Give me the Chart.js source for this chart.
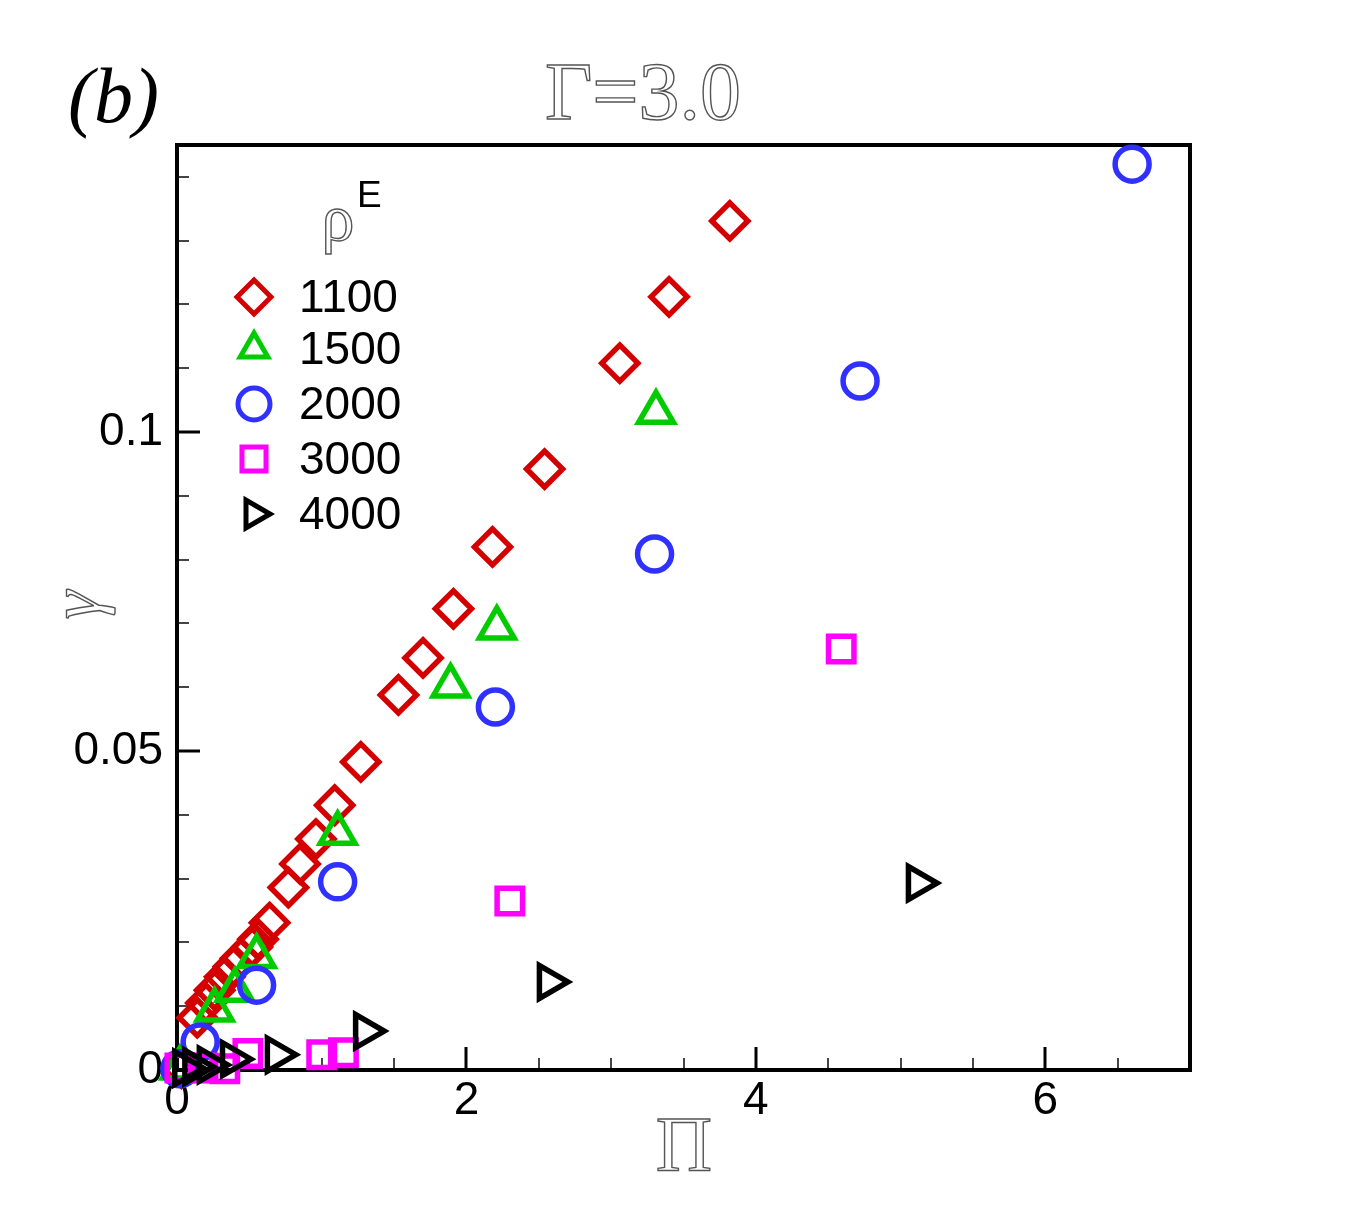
<!DOCTYPE html>
<html>
<head>
<meta charset="utf-8">
<script src="https://cdn.jsdelivr.net/npm/chart.js@4.4.1/dist/chart.umd.min.js"></script>
<style>
  html, body { margin: 0; padding: 0; background: #fff; }
  #wrap { width: 1355px; height: 1205px; }
</style>
</head>
<body>
<div id="wrap"><canvas id="gammaChart" width="1355" height="1205"></canvas></div>
<script>
// values, Pi on x and gamma on y
const seriesNames = ['1100', '1500', '2000', '3000', '4000'];

const pi1100 = [0.03, 0.14, 0.20, 0.26, 0.33, 0.39, 0.44, 0.52, 0.56, 0.64, 0.77, 0.85, 0.96, 1.09, 1.27, 1.53, 1.70, 1.91, 2.18, 2.54, 3.06, 3.40, 3.82];
const gam1100 = [0.0003, 0.0082, 0.0105, 0.0125, 0.0146, 0.0162, 0.0175, 0.0193, 0.0205, 0.0231, 0.0286, 0.0323, 0.0362, 0.0415, 0.0483, 0.0588, 0.0646, 0.0723, 0.0820, 0.0942, 0.1108, 0.1212, 0.1331];

const pi1500 = [0.02, 0.26, 0.40, 0.55, 1.11, 1.89, 2.21, 3.31];
const gam1500 = [0.0003, 0.0094, 0.0125, 0.0178, 0.0371, 0.0602, 0.0693, 0.1031];

const pi2000 = [0.02, 0.16, 0.55, 1.11, 2.20, 3.30, 4.72, 6.60];
const gam2000 = [0.0002, 0.0044, 0.0133, 0.0295, 0.0569, 0.0809, 0.1080, 0.1420];

const pi3000 = [0.02, 0.18, 0.33, 0.49, 1.00, 1.15, 2.30, 4.59];
const gam3000 = [0.0003, 0.0003, 0.0002, 0.0026, 0.0024, 0.0027, 0.0265, 0.0660];

const pi4000 = [0.05, 0.12, 0.22, 0.38, 0.69, 1.30, 2.57, 5.12];
const gam4000 = [0.0003, 0.0005, 0.0008, 0.0017, 0.0024, 0.0061, 0.0138, 0.0293];

const xTicksMajor = [0, 2, 4, 6];
const yTicksMajor = [0, 0.05, 0.1];
const yTickLabels = ['0', '0.05', '0.1'];

const colors = ['#d40000', '#00cc00', '#3030ff', '#ff00ff', '#000000'];
const shapes = ['rectRot', 'triangle', 'circle', 'rect', 'triangle'];
const rotations = [0, 0, 0, 0, 90];
const radii = [18, 20, 17, 18, 19];

const allX = [pi1100, pi1500, pi2000, pi3000, pi4000];
const allY = [gam1100, gam1500, gam2000, gam3000, gam4000];

const datasets = seriesNames.map((name, i) => ({
  label: name,
  data: allX[i].map((x, k) => ({ x: x, y: allY[i][k] })),
  pointStyle: shapes[i],
  rotation: rotations[i],
  pointRadius: radii[i],
  pointHoverRadius: radii[i],
  borderWidth: 5.5,
  pointBorderWidth: 5.5,
  pointBorderColor: colors[i],
  borderColor: colors[i],
  pointBackgroundColor: 'rgba(0,0,0,0)',
  showLine: false,
  clip: false,
  order: 5 - i
}));

function drawMarker(ctx, shape, rot, r, x, y, color) {
  ctx.save();
  ctx.strokeStyle = color;
  ctx.lineWidth = 5;
  ctx.translate(x, y);
  ctx.rotate(rot * Math.PI / 180);
  ctx.beginPath();
  if (shape === 'rectRot') {
    ctx.moveTo(0, -r); ctx.lineTo(r, 0); ctx.lineTo(0, r); ctx.lineTo(-r, 0); ctx.closePath();
  } else if (shape === 'triangle') {
    for (let k = 0; k < 3; k++) {
      const a = k * 2 * Math.PI / 3;
      const px = Math.sin(a) * r, py = -Math.cos(a) * r;
      if (k === 0) ctx.moveTo(px, py); else ctx.lineTo(px, py);
    }
    ctx.closePath();
  } else if (shape === 'circle') {
    ctx.arc(0, 0, r, 0, Math.PI * 2);
  } else {
    const s = Math.SQRT1_2 * r;
    ctx.rect(-s, -s, 2 * s, 2 * s);
  }
  ctx.stroke();
  ctx.restore();
}

const decorPlugin = {
  id: 'decor',
  beforeDatasetsDraw(chart) {
    const ctx = chart.ctx;
    const xs = chart.scales.x, ys = chart.scales.y;
    const a = chart.chartArea;
    ctx.save();
    // minor ticks
    ctx.strokeStyle = '#444';
    ctx.lineWidth = 2;
    for (let v = 0.01; v < 0.145; v += 0.01) {
      const py = Math.round(ys.getPixelForValue(v));
      ctx.beginPath(); ctx.moveTo(a.left, py); ctx.lineTo(a.left + 12, py); ctx.stroke();
    }
    for (let v = 0.5; v < 7; v += 0.5) {
      const px = Math.round(xs.getPixelForValue(v));
      ctx.beginPath(); ctx.moveTo(px, a.bottom); ctx.lineTo(px, a.bottom - 12); ctx.stroke();
    }
    // major ticks
    ctx.strokeStyle = '#000';
    ctx.lineWidth = 3;
    yTicksMajor.forEach(v => {
      const py = Math.round(ys.getPixelForValue(v));
      ctx.beginPath(); ctx.moveTo(a.left, py); ctx.lineTo(a.left + 23, py); ctx.stroke();
    });
    xTicksMajor.forEach(v => {
      const px = Math.round(xs.getPixelForValue(v));
      ctx.beginPath(); ctx.moveTo(px, a.bottom); ctx.lineTo(px, a.bottom - 23); ctx.stroke();
    });
    // frame
    ctx.lineWidth = 4;
    ctx.strokeRect(a.left, a.top, a.right - a.left, a.bottom - a.top);
    ctx.restore();
  },
  afterDraw(chart) {
    const ctx = chart.ctx;
    ctx.save();
    // panel letter
    ctx.fillStyle = '#000';
    ctx.font = 'italic 78px "Liberation Serif"';
    ctx.textAlign = 'left';
    ctx.textBaseline = 'alphabetic';
    ctx.fillText('(b)', 68, 122);

    // hollow title and axis titles
    ctx.strokeStyle = '#555';
    ctx.lineWidth = 1.4;
    ctx.textAlign = 'center';
    ctx.font = '82px "Liberation Serif"';
    ctx.strokeText('\u0393=3.0', 643, 119);
    ctx.font = '78px "Liberation Serif"';
    ctx.strokeText('\u03A0', 684, 1170);
    ctx.save();
    ctx.translate(100, 605);
    ctx.rotate(-Math.PI / 2);
    ctx.font = 'italic 72px "Liberation Serif"';
    ctx.strokeText('\u03B3', 0, 0);
    ctx.restore();

    // legend
    ctx.font = '66px "Liberation Serif"';
    ctx.strokeText('\u03C1', 338, 240);
    ctx.fillStyle = '#000';
    ctx.font = '37px "Liberation Sans"';
    ctx.textAlign = 'left';
    ctx.fillText('E', 357, 207);
    const rowY = [297, 349, 404, 459, 514];
    ctx.font = '46px "Liberation Sans"';
    ctx.textBaseline = 'middle';
    seriesNames.forEach((name, i) => {
      const lr = shapes[i] === 'triangle' ? 16 : (shapes[i] === 'circle' ? 16 : 17);
      drawMarker(ctx, shapes[i], rotations[i], lr, 254, rowY[i], colors[i]);
      ctx.fillStyle = '#000';
      ctx.fillText(name, 299, rowY[i] + 2);
    });
    ctx.restore();
  }
};

const tickFont = { family: '"Liberation Sans"', size: 46 };

new Chart(document.getElementById('gammaChart').getContext('2d'), {
  type: 'scatter',
  data: { datasets: datasets },
  options: {
    responsive: false,
    animation: false,
    devicePixelRatio: 1,
    layout: { padding: { top: 145, right: 165, bottom: 0, left: 0 } },
    scales: {
      x: {
        type: 'linear',
        min: 0,
        max: 7,
        grid: { display: false, drawTicks: false },
        border: { display: false },
        ticks: { stepSize: 2, includeBounds: false, color: '#000', font: tickFont, padding: 4, maxRotation: 0 },
        afterFit(scale) { scale.height = 135; }
      },
      y: {
        type: 'linear',
        min: 0,
        max: 0.145,
        grid: { display: false, drawTicks: false },
        border: { display: false },
        ticks: {
          stepSize: 0.05, includeBounds: false, color: '#000', font: tickFont, padding: 14,
          callback: (v) => {
            const k = yTicksMajor.findIndex(t => Math.abs(t - v) < 1e-9);
            return k >= 0 ? yTickLabels[k] : '';
          }
        },
        afterFit(scale) { scale.width = 177; }
      }
    },
    plugins: {
      legend: { display: false },
      tooltip: { enabled: false }
    }
  },
  plugins: [decorPlugin]
});
</script>
</body>
</html>
